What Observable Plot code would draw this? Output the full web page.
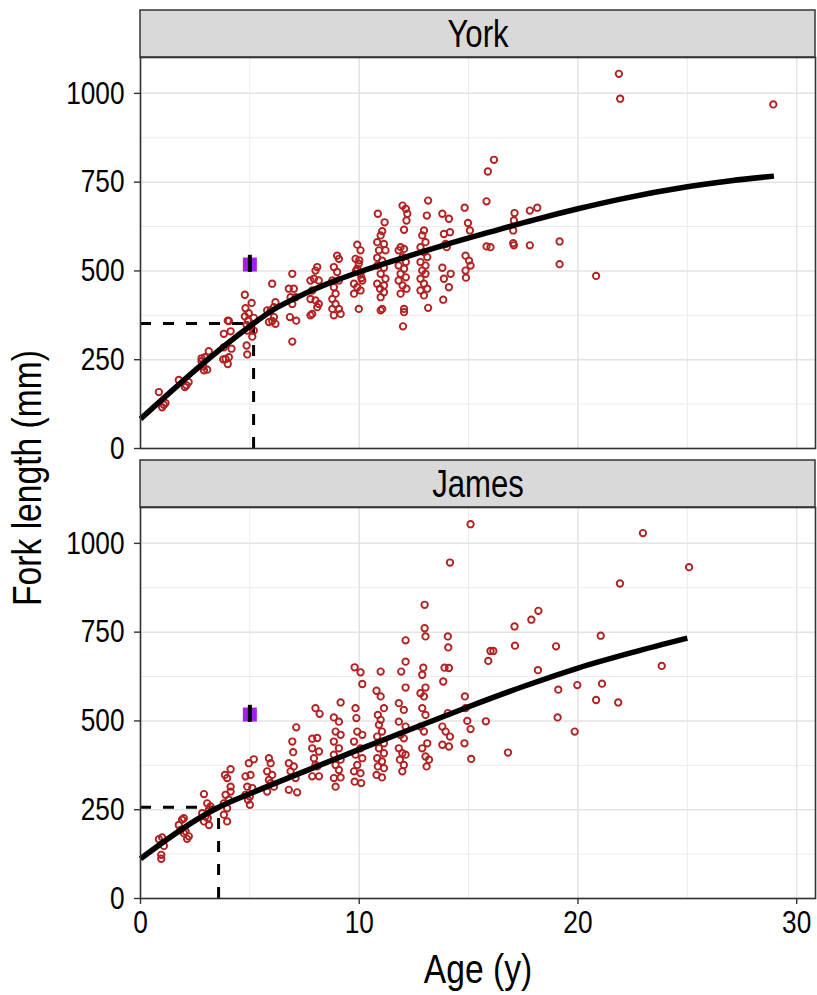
<!DOCTYPE html>
<html><head><meta charset="utf-8">
<script src="https://cdn.jsdelivr.net/npm/d3@7"></script>
<script src="https://cdn.jsdelivr.net/npm/@observablehq/plot@0.6"></script>
<style>
html,body{margin:0;padding:0;background:#fff;}
#chart{position:relative;width:817px;height:995px;}
</style></head><body><div id="chart"></div>
<script>
const panels = ["York", "James"];
const xTicks = [0, 10, 20, 30];
const yTicks = [0, 250, 500, 750, 1000];
const xMinor = [5, 15, 25];
const yMinor = [125, 375, 625, 875];

// [age (y), fork length (mm)]
const yorkPoints = [
[0.84,159],[1.07,123],[1.14,128],[0.99,116],
[1.75,193],[2.03,173],[2.2,187],[2.1,178],
[2.79,254],[2.79,246],[2.9,220],[3.12,274],[3.05,222],[2.87,231],[2.94,257],
[3.81,323],[3.99,360],[4.04,359],[4.12,330],[3.81,285],[3.89,252],[3.99,238],[3.78,251],[4.04,257],[4.16,281],
[4.77,433],[5.08,410],[4.8,395],[4.77,372],[4.95,381],[5.18,368],[4.91,360],[4.85,348],[5.03,344],[5.18,332],[4.88,332],[5.11,315],[4.85,290],[4.88,265],
[5.79,389],[6.02,464],[6.17,412],[6.1,398],[5.87,356],[6.17,351],[6.02,359],[6.1,370],[5.95,389],
[6.94,492],[6.78,450],[7.01,450],[7.09,426],[6.86,426],[6.94,407],[6.83,370],[7.12,360],[6.94,301],
[7.77,473],[8.0,501],[8.08,511],[7.93,478],[8.15,473],[7.85,445],[7.77,421],[8.0,417],[8.15,407],[7.85,379],[7.77,375],[8.08,398],
[8.99,543],[9.07,534],[8.84,511],[8.99,497],[8.77,473],[9.07,473],[8.84,454],[8.92,436],[8.77,421],[8.92,407],[9.07,393],[9.15,379],[8.84,375],[8.77,393],
[9.91,574],[10.06,558],[9.83,534],[9.98,520],[9.91,506],[10.06,492],[10.14,473],[9.76,464],[9.91,454],[10.06,445],[9.76,436],[9.98,393],[10.0,530],[9.85,500],[10.1,480],
[10.85,661],[11.16,637],[11.05,612],[10.98,600],[10.82,581],[11.13,576],[10.9,558],[11.2,558],[10.82,537],[11.05,529],[10.82,515],[11.13,509],[10.98,492],[11.2,478],[10.82,464],[11.13,459],[10.95,450],[11.13,440],[10.98,426],[10.98,389],[11.05,393],
[11.98,684],[12.13,675],[12.2,661],[12.16,642],[12.05,616],[11.89,567],[12.05,562],[11.8,558],[11.98,539],[12.13,525],[11.8,515],[12.05,506],[11.89,492],[12.13,482],[11.8,473],[11.98,459],[12.16,450],[11.89,436],[12.05,393],[12.05,384],[12.0,344],
[13.15,698],[13.09,656],[12.96,614],[12.88,600],[13.03,581],[12.8,567],[12.96,553],[13.11,539],[12.8,525],[13.03,515],[12.88,501],[13.03,492],[12.8,478],[12.96,464],[13.11,450],[12.8,445],[12.96,431],[13.15,396],
[13.8,661],[14.1,647],[13.87,604],[14.15,609],[13.95,576],[14.0,567],[13.8,509],[14.18,492],[13.87,478],[14.1,454],[13.84,419],
[14.82,678],[14.97,635],[15.06,614],[14.86,543],[15.02,529],[14.86,501],[15.09,515],[14.88,481],
[16.16,813],[15.88,780],[15.82,696],[15.82,569],[16.0,567],[17.1,663],[17.07,642],[17.04,614],[17.04,578],[17.07,572],
[17.8,670],[18.14,678],[17.8,572],[19.16,583],[19.16,519],[20.83,486],[21.87,1055],[21.93,985],[28.93,969]
];

const jamesPoints = [
[0.84,167],[0.99,172],[1.07,148],[0.95,123],[0.95,112],
[1.75,207],[1.9,222],[1.98,226],[1.83,193],[2.06,189],[2.13,168],[1.98,184],[2.21,175],
[2.9,294],[2.82,240],[3.05,268],[3.13,250],[2.97,231],[3.13,207],[2.9,217],[3.2,259],[3.08,226],
[3.86,348],[4.12,364],[3.96,339],[4.12,315],[3.89,292],[4.04,278],[3.81,268],[3.96,254],[3.81,236],[3.96,217],[4.12,301],
[4.95,381],[5.18,392],[4.8,344],[5.03,348],[4.88,315],[5.11,311],[4.8,292],[5.0,287],[5.0,264],[4.91,278],
[5.87,395],[5.95,381],[5.79,358],[6.02,348],[5.87,334],[6.1,315],[5.79,301],[5.95,325],
[7.12,482],[6.94,442],[6.98,412],[6.78,381],[7.01,372],[6.86,358],[7.09,339],[6.78,306],[7.16,299],
[8.0,536],[8.19,520],[7.85,450],[8.08,452],[7.85,423],[8.16,414],[7.93,395],[8.08,372],[7.85,344],[8.16,344],[8.0,376],
[9.15,552],[8.84,510],[9.07,498],[8.92,470],[9.15,461],[8.84,442],[9.07,423],[8.84,405],[9.15,391],[8.92,376],[9.07,362],[8.84,339],[9.15,341],[8.92,315],
[9.79,651],[10.06,637],[10.14,604],[9.83,536],[9.87,508],[9.91,470],[10.14,461],[9.76,442],[10.06,423],[9.83,405],[10.14,395],[9.91,376],[9.76,358],[10.06,353],[9.79,329],[10.09,325],
[10.98,639],[10.79,585],[10.98,569],[11.13,536],[10.85,517],[10.98,503],[10.9,489],[11.04,470],[10.82,456],[11.13,437],[10.9,423],[11.13,409],[10.82,395],[11.04,386],[10.85,372],[11.13,367],[10.79,348],[11.04,341],
[12.12,727],[11.92,639],[12.12,667],[12.12,594],[11.81,550],[12.04,531],[11.81,498],[12.12,484],[11.89,461],[12.04,451],[11.81,423],[11.97,409],[12.12,405],[11.86,391],[12.04,376],[11.97,358],
[12.99,827],[12.99,761],[13.03,738],[12.93,650],[12.88,630],[13.03,594],[12.8,578],[12.96,569],[12.88,536],[13.03,517],[12.8,484],[12.96,470],[13.11,437],[12.88,423],[13.03,400],[13.19,391],[13.08,372],
[14.15,946],[14.05,738],[14.07,707],[13.9,650],[14.1,649],[13.84,611],[14.05,522],[13.8,484],[13.95,470],[14.15,456],[13.8,433],[14.1,428],
[14.83,569],[14.94,500],[15.09,477],[14.81,437],[15.12,393],[14.86,536],
[15.09,1054],[22.97,1029],[25.08,933],[21.92,887],[18.19,810],[17.87,785],[17.1,766],[16.13,697],[17.12,712],[15.9,669],
[19.0,710],[21.04,740],[18.17,643],[23.83,655],[19.1,588],[19.97,601],[21.1,605],[20.83,559],[21.84,552],[15.79,499],
[16.0,697],[19.07,510],[19.85,470],[16.8,411]
];

// fitted growth curves
const yorkFit = [[0,83],[5.17,352],[6,388],[7,421],[8,450],[9,475],[10,497],[12,537],[14,575],[16,610],[18,644],[20,675],[22,703],[25,737],[27,754],[28.96,767]];
const jamesFit = [[0,112],[3.58,257],[5,295],[7.5,358],[10,420],[12.5,480],[15,540],[17.5,597],[20,649],[22.5,693],[25,733]];

// breakpoint (dashed guides) per panel
const knotAge = [5.17, 3.57];
const knotLen = [352, 257];
// purple reference marker with its bar
const refAge = [5, 5];
const refLen = [518, 518];
const refLo = [496, 496];
const refHi = [544, 544];

const FONT = "'Liberation Sans', Arial, sans-serif";
const NARROW = 0.82;

const pts = [
  ...yorkPoints.map(([a, l]) => ({panel: "York", age: a, len: l})),
  ...jamesPoints.map(([a, l]) => ({panel: "James", age: a, len: l}))
];
const fit = [
  ...yorkFit.map(([a, l]) => ({panel: "York", age: a, len: l})),
  ...jamesFit.map(([a, l]) => ({panel: "James", age: a, len: l}))
];
const knots = panels.map((p, i) => ({panel: p, age: knotAge[i], len: knotLen[i]}));
const refs = panels.map((p, i) => ({panel: p, age: refAge[i], len: refLen[i], lo: refLo[i], hi: refHi[i]}));
const strips = panels.map(p => ({panel: p}));

const chart = Plot.plot({
  width: 817, height: 995,
  marginLeft: 140, marginRight: 2, marginTop: 57, marginBottom: 97,
  style: {fontFamily: FONT, background: "white", color: "black"},
  x: {domain: [0, 30.86]},
  y: {domain: [0, 1101]},
  fy: {domain: panels, paddingInner: 59 / 450, paddingOuter: 0, axis: null, round: false},
  marks: [
    Plot.gridX(xMinor, {stroke: "#ebebeb", strokeOpacity: 1, strokeWidth: 1}),
    Plot.gridY(yMinor, {stroke: "#ebebeb", strokeOpacity: 1, strokeWidth: 1}),
    Plot.gridX(xTicks, {stroke: "#e3e3e3", strokeOpacity: 1, strokeWidth: 1.5}),
    Plot.gridY(yTicks, {stroke: "#e3e3e3", strokeOpacity: 1, strokeWidth: 1.5}),
    Plot.rect(strips, {fy: "panel", fill: "#d9d9d9", stroke: "#333", strokeWidth: 1.5, insetTop: -47, insetBottom: 391}),
    Plot.text(strips, {fy: "panel", text: "panel", frameAnchor: "top", lineAnchor: "middle", dy: -23, fontSize: 38, fill: "black"}),
    Plot.ruleY(knots, {fy: "panel", y: "len", x1: 0, x2: "age", stroke: "black", strokeWidth: 3, strokeDasharray: "11,12"}),
    Plot.ruleX(knots, {fy: "panel", x: "age", y1: 0, y2: "len", stroke: "black", strokeWidth: 3, strokeDasharray: "11,12"}),
    Plot.dot(pts, {fy: "panel", x: "age", y: "len", r: 3.2, stroke: "#b22222", strokeWidth: 1.9, fill: "none"}),
    Plot.line(fit, {fy: "panel", x: "age", y: "len", z: "panel", stroke: "black", strokeWidth: 5.5, curve: "monotone-x", strokeLinecap: "butt"}),
    Plot.dot(refs, {fy: "panel", x: "age", y: "len", symbol: "square", r: 7.9, fill: "#a020f0", stroke: "none"}),
    Plot.ruleX(refs, {fy: "panel", x: "age", y1: "lo", y2: "hi", stroke: "black", strokeWidth: 4}),
    Plot.frame({stroke: "#333", strokeWidth: 1.6}),
    Plot.axisY(yTicks, {label: null, tickSize: 6, tickPadding: 10, fontSize: 32, tickFormat: d3.format("d"), stroke: "#333", strokeWidth: 1.4}),
    Plot.axisX(xTicks, {label: null, tickSize: 6, tickPadding: 6, fontSize: 32, tickFormat: d3.format("d"), stroke: "#333", strokeWidth: 1.4})
  ]
});

const svg = d3.select(chart);
svg.append("text").attr("transform", "translate(30,478) rotate(-90)")
  .attr("text-anchor", "middle").attr("dominant-baseline", "middle")
  .attr("font-size", 41).attr("font-family", FONT).attr("fill", "black")
  .text("Fork length (mm)");
svg.append("text").attr("x", 478).attr("y", 972)
  .attr("text-anchor", "middle").attr("dominant-baseline", "middle")
  .attr("font-size", 41).attr("font-family", FONT).attr("fill", "black")
  .text("Age (y)");

// condensed type: narrow every label horizontally around its own anchor
svg.selectAll("text").each(function () {
  const x = +this.getAttribute("x") || 0, y = +this.getAttribute("y") || 0;
  const tr = this.getAttribute("transform") || "";
  this.setAttribute("transform", `${tr} translate(${x},${y}) scale(${NARROW},1) translate(${-x},${-y})`);
});

document.getElementById("chart").appendChild(chart);
</script></body></html>
